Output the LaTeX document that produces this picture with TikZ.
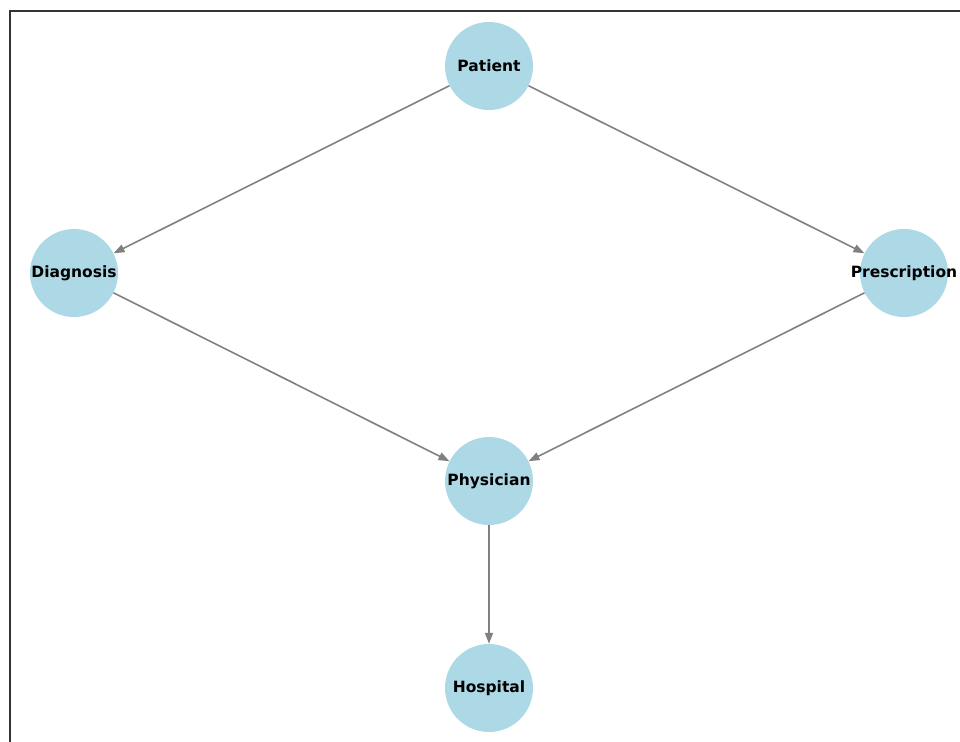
\documentclass[tikz,border=0pt]{standalone}
\usepackage{fontspec}
\setmainfont{DejaVu Sans}
\usetikzlibrary{arrows.meta}
\begin{document}
\begin{tikzpicture}[x=1pt,y=-1pt,
  vnode/.style={circle, fill=lightblue, draw=none, minimum size=88pt, inner sep=0pt,
    label={[font=\fontsize{15.5}{18}\selectfont\bfseries, text=black, inner sep=0pt]center:#1}},
  edge/.style={draw=edgegray, line width=1.6pt, -{Triangle[length=11pt,width=8pt]}}]
\definecolor{lightblue}{HTML}{ADD8E6}
\definecolor{edgegray}{HTML}{808080}
\useasboundingbox (0,0) rectangle (960,741);
\draw[line width=1.2pt, draw=black!80] (10,745) -- (10,11) -- (965,11);
\node[vnode=Patient] (patient) at (489,66) {};
\node[vnode=Diagnosis] (diagnosis) at (74,273) {};
\node[vnode=Prescription] (prescription) at (904,273) {};
\node[vnode=Physician] (physician) at (489,481) {};
\node[vnode=Hospital] (hospital) at (489,688) {};
\draw[edge] (patient) -- (diagnosis);
\draw[edge] (patient) -- (prescription);
\draw[edge] (diagnosis) -- (physician);
\draw[edge] (prescription) -- (physician);
\draw[edge] (physician) -- (hospital);
\end{tikzpicture}
\end{document}
